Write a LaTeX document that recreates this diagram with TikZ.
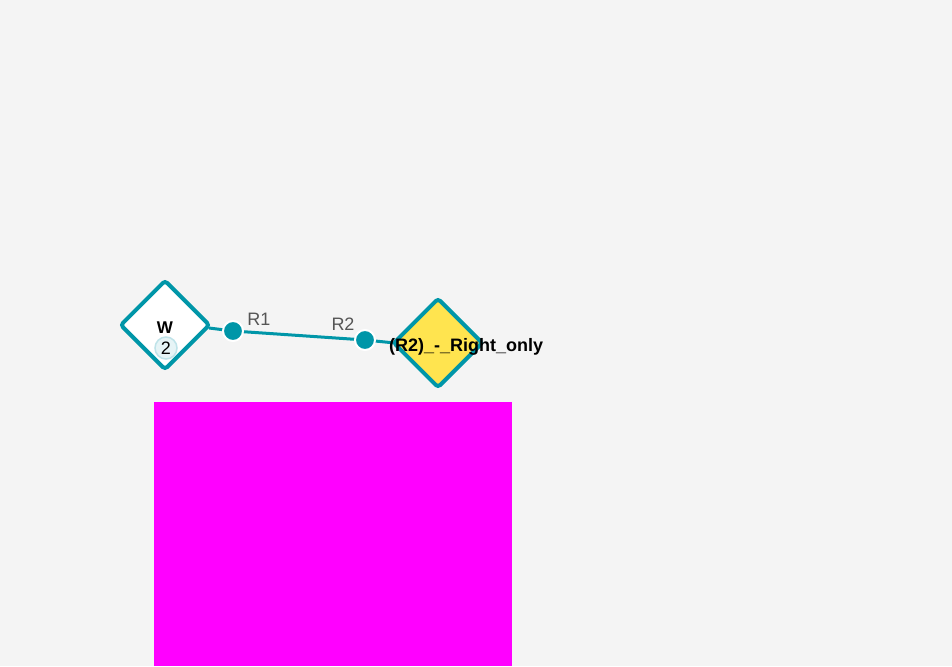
\documentclass[tikz,border=0pt]{standalone}
\usepackage{fontspec}
\setmainfont{Liberation Sans}
\usetikzlibrary{shapes.geometric,backgrounds}
\definecolor{bg}{HTML}{F4F4F4}
\definecolor{teal}{HTML}{0096A8}
\definecolor{yel}{HTML}{FFE44F}
\definecolor{lab}{HTML}{555555}
\definecolor{badge}{HTML}{E6F4F6}
\definecolor{badgeline}{HTML}{BFE3E9}
\definecolor{mag}{RGB}{255,0,255}
\tikzset{
  dnode/.style={diamond, draw=teal, line width=4pt, rounded corners=3pt, minimum width=90pt, minimum height=90pt, inner sep=0pt},
  dot/.style={circle, fill=teal, draw=white, line width=2pt, minimum size=20pt, inner sep=0pt},
  edge/.style={draw=teal, line width=3pt},
  elabel/.style={text=lab, font=\fontsize{18}{18}\selectfont, inner sep=0pt},
}
\begin{document}
\begin{tikzpicture}[x=1pt,y=-1pt]
\useasboundingbox (0,0) rectangle (952,666);
\node[dnode, fill=white] (w) at (165,325) {};
\node[font=\bfseries\fontsize{17}{17}\selectfont, inner sep=0pt] (wt) at (165,328) {W};
\node[circle, fill=badge, draw=badgeline, line width=1.5pt, minimum size=22pt, inner sep=0pt, font=\fontsize{18}{18}\selectfont] (wb) at (166,348) {2};
\node[dnode, fill=yel] (y) at (438,343) {};
\node[font=\bfseries\fontsize{18}{18}\selectfont, inner sep=0pt, anchor=west] (yt) at (389,347) {(R2)\_-\_Right\_only};
\node[dot] (d1) at (233,331) {};
\node[dot] (d2) at (365,340) {};
\coordinate (ws) at ([xshift=-3pt,yshift=-3pt]w.east);
\coordinate (ye) at ([xshift=4pt]y.west);
\begin{scope}[on background layer]
\fill[bg] (0,0) rectangle (952,666);
\fill[mag] (154,402) rectangle (512,666);
\draw[edge] (ws) -- (d1.center);
\draw[edge] (d1.center) -- (d2.center);
\draw[edge] (d2.center) -- (ye);
\end{scope}
\node[elabel] (l1) at (259,319) {R1};
\node[elabel] (l2) at (343,324) {R2};
\end{tikzpicture}
\end{document}
